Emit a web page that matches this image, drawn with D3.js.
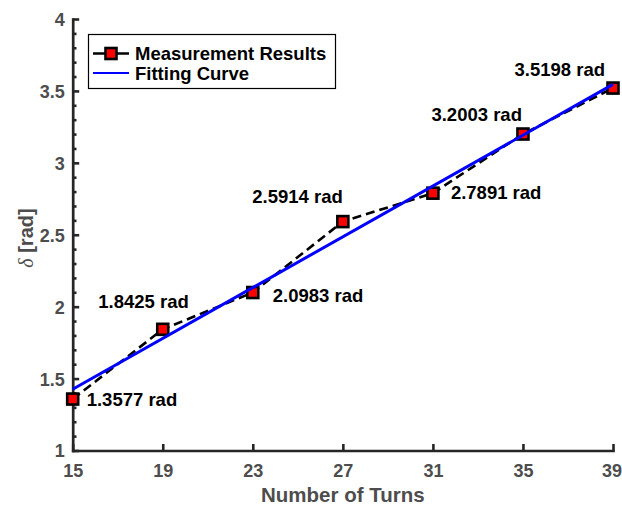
<!DOCTYPE html>
<html>
<head>
<meta charset="utf-8">
<script src="https://cdn.jsdelivr.net/npm/d3@7"></script>
<style>
  body { margin: 0; background: #fff; }
  svg { display: block; font-family: "Liberation Sans", Arial, sans-serif; }
</style>
</head>
<body>
<div id="chart"></div>
<script>
// data
const turns = [15, 19, 23, 27, 31, 35, 39];
const delta = [1.3577, 1.8425, 2.0983, 2.5914, 2.7891, 3.2003, 3.5198];
const pointLabels = ["1.3577 rad", "1.8425 rad", "2.0983 rad", "2.5914 rad", "2.7891 rad", "3.2003 rad", "3.5198 rad"];
const fitTurns = [15, 39];
const fitDelta = [1.4257, 3.5455]; // ends of the fitting line
const xTicks = [15, 19, 23, 27, 31, 35, 39];
const yTicks = [1, 1.5, 2, 2.5, 3, 3.5, 4];
const legendNames = ["Measurement Results", "Fitting Curve"];

// label placement relative to its point (pixels), anchor
const labelOffsets = [
  { dx: 14, dy: 7, anchor: "start" },
  { dx: 26, dy: -21, anchor: "end" },
  { dx: 20, dy: 9, anchor: "start" },
  { dx: 0, dy: -19, anchor: "end" },
  { dx: 18, dy: 6, anchor: "start" },
  { dx: -1, dy: -13, anchor: "end" },
  { dx: -8, dy: -12, anchor: "end" }
];

const W = 622, H = 506;
const svg = d3.select("#chart").append("svg")
  .attr("width", W)
  .attr("height", H);

const x = d3.scaleLinear().domain([15, 39]).range([72.7, 613]);
const y = d3.scaleLinear().domain([1, 4]).range([450.5, 19]);

const axisColor = "#262626";
const tickTextColor = "#4d4d4d";

// minor ticks on y (0.1 steps)
const minorVals = d3.range(10, 41).map(d => d / 10).filter(v => yTicks.indexOf(v) < 0);
const yMinor = svg.append("g")
  .attr("transform", "translate(" + x(15) + ",0)")
  .call(d3.axisLeft(y).tickValues(minorVals).tickSize(-3.8).tickFormat(""));
yMinor.select(".domain").remove();
yMinor.selectAll("line").attr("stroke", axisColor).attr("stroke-width", 2.6);

// y axis
const yAxis = svg.append("g")
  .attr("transform", "translate(" + x(15) + ",0)")
  .call(d3.axisLeft(y).tickValues(yTicks).tickSize(-6.5).tickSizeOuter(0).tickPadding(8)
    .tickFormat(d => d3.format("")(d)));

// x axis
const xAxis = svg.append("g")
  .attr("transform", "translate(0," + y(1) + ")")
  .call(d3.axisBottom(x).tickValues(xTicks).tickSize(-6.5).tickSizeOuter(0).tickPadding(14));

[xAxis, yAxis].forEach(function(g){
  g.select(".domain").attr("stroke", axisColor).attr("stroke-width", 2.7).attr("stroke-linecap", "square");
  g.selectAll(".tick line").attr("stroke", axisColor).attr("stroke-width", 2.6);
  g.selectAll(".tick text")
    .attr("fill", tickTextColor)
    .style("font-size", "18px")
    .style("font-weight", "bold")
    .style("font-family", "'Liberation Sans', Arial, sans-serif");
});
yAxis.selectAll(".tick text").attr("dy", "0.36em");
// keep the last label inside the window
xAxis.selectAll(".tick text").filter(d => d == 39).attr("dx", -1.5);

// axis titles
svg.append("text")
  .attr("x", (x(15) + x(39)) / 2)
  .attr("y", 502)
  .attr("text-anchor", "middle")
  .attr("fill", tickTextColor)
  .style("font-size", "20.5px")
  .style("font-weight", "bold")
  .text("Number of Turns");

const yTitle = svg.append("text")
  .attr("transform", "translate(33,238) rotate(-90)")
  .attr("text-anchor", "middle")
  .attr("fill", tickTextColor)
  .style("font-size", "20px")
  .style("font-weight", "bold");
yTitle.append("tspan")
  .style("font-family", "'Liberation Serif', 'Times New Roman', serif")
  .style("font-style", "italic")
  .style("font-weight", "normal")
  .text("δ");
yTitle.append("tspan").text(" [rad]");

// measurement dashed line
const pts = turns.map((t, i) => ({ t: t, v: delta[i], label: pointLabels[i], off: labelOffsets[i] }));
const line = d3.line().x(d => x(d.t)).y(d => y(d.v));
svg.append("path")
  .datum(pts)
  .attr("d", line)
  .attr("fill", "none")
  .attr("stroke", "#000")
  .attr("stroke-width", 2.6)
  .attr("stroke-dasharray", "9,5");

// markers
const ms = 11;
svg.append("g").selectAll("rect")
  .data(pts)
  .enter()
  .append("rect")
    .attr("x", d => x(d.t) - ms / 2)
    .attr("y", d => y(d.v) - ms / 2)
    .attr("width", ms)
    .attr("height", ms)
    .attr("fill", "#ff0000")
    .attr("stroke", "#000")
    .attr("stroke-width", 2.6);

// fitting line (drawn over markers as in the original)
const fit = fitTurns.map((t, i) => ({ t: t, v: fitDelta[i] }));
svg.append("path")
  .datum(fit)
  .attr("d", line)
  .attr("fill", "none")
  .attr("stroke", "#0000ff")
  .attr("stroke-width", 3);

// point labels
svg.append("g").selectAll("text")
  .data(pts)
  .enter()
  .append("text")
    .attr("x", d => x(d.t) + d.off.dx)
    .attr("y", d => y(d.v) + d.off.dy)
    .attr("text-anchor", d => d.off.anchor)
    .attr("fill", "#000")
    .style("font-size", "18.5px")
    .style("font-weight", "bold")
    .text(d => d.label);

// legend
const legend = svg.append("g");
legend.append("rect")
  .attr("x", 88.5).attr("y", 34.5)
  .attr("width", 247).attr("height", 54)
  .attr("fill", "#fff")
  .attr("stroke", "#000")
  .attr("stroke-width", 1.2);

const row1 = 53.5, row2 = 73;
legend.append("line")
  .attr("x1", 93).attr("x2", 129).attr("y1", row1).attr("y2", row1)
  .attr("stroke", "#000").attr("stroke-width", 2.6);
legend.append("rect")
  .attr("x", 111 - ms / 2).attr("y", row1 - ms / 2)
  .attr("width", ms).attr("height", ms)
  .attr("fill", "#ff0000").attr("stroke", "#000").attr("stroke-width", 2.6);
legend.append("line")
  .attr("x1", 93).attr("x2", 129).attr("y1", row2).attr("y2", row2)
  .attr("stroke", "#0000ff").attr("stroke-width", 2.2);

legend.selectAll("text.lg")
  .data(legendNames)
  .enter()
  .append("text")
    .attr("class", "lg")
    .attr("x", 135)
    .attr("y", (d, i) => (i == 0 ? row1 : row2) + 6.5)
    .attr("fill", "#000")
    .style("font-size", "18.5px")
    .style("font-weight", "bold")
    .text(d => d);
</script>
</body>
</html>
